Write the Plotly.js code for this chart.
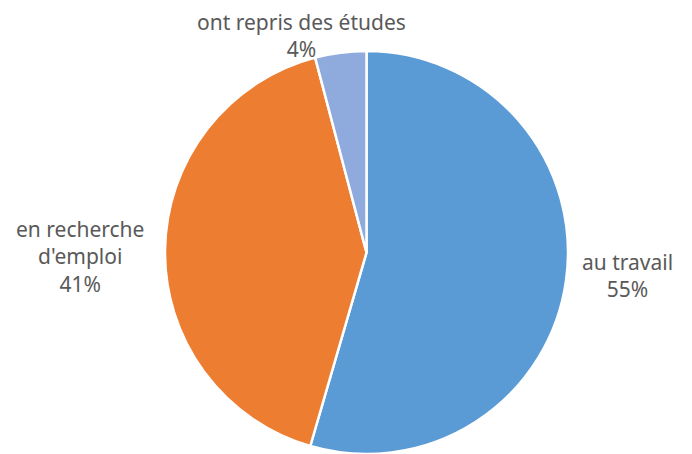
<!DOCTYPE html>
<html>
<head>
<meta charset="utf-8">
<script src="https://cdn.plot.ly/plotly-3.0.1.min.js"></script>
<style>html,body{margin:0;padding:0;background:#fff;}#chart{width:692px;height:454px;}</style>
</head>
<body>
<div id="chart"></div>
<script>
const categories = ["au travail", "en recherche<br>d'emploi", "ont repris des études"];
const values = [54.5, 41.4, 4.1];
const percentLabels = ["55%", "41%", "4%"];
const colors = ["#5B9BD5", "#ED7D31", "#8FAADC"];
// label anchor positions (paper fractions) for each category
const labelX = [627 / 692, 80 / 692, 301 / 692];
const labelY = [1 - 275.5 / 454, 1 - 256 / 454, 1 - 35 / 454];

const labelFont = {family: "Noto Sans, Open Sans, sans-serif", size: 21, color: "#595959"};

const trace = {
  type: "pie",
  labels: categories,
  values: values,
  sort: false,
  direction: "clockwise",
  rotation: 0,
  marker: {colors: colors, line: {color: "#ffffff", width: 2.5}},
  textinfo: "none",
  hoverinfo: "none",
  domain: {x: [165 / 692, 568 / 692], y: [0, 403 / 454]},
  automargin: false
};

const annotations = categories.map((c, i) => ({
  xref: "paper", yref: "paper",
  x: labelX[i], y: labelY[i],
  xanchor: "center", yanchor: "middle",
  text: c + "<br>" + percentLabels[i],
  showarrow: false,
  align: "center",
  font: labelFont
}));

const layout = {
  width: 692, height: 454,
  margin: {l: 0, r: 0, t: 0, b: 0},
  showlegend: false,
  paper_bgcolor: "#ffffff",
  plot_bgcolor: "#ffffff",
  annotations: annotations
};

Plotly.newPlot("chart", [trace], layout, {displayModeBar: false, staticPlot: true});
</script>
</body>
</html>
